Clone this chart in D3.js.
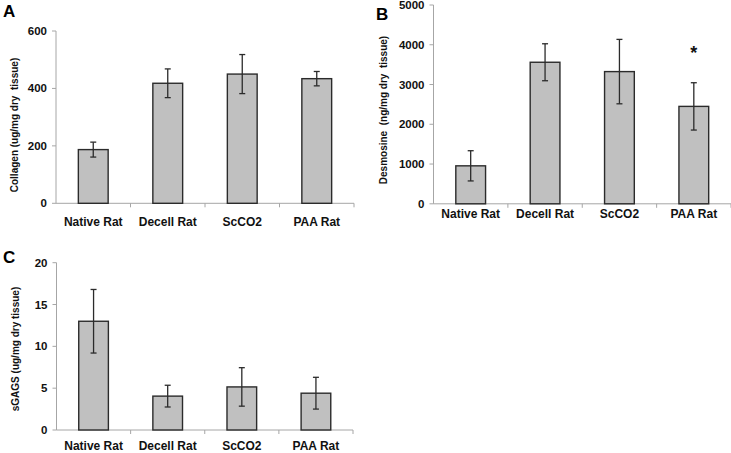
<!DOCTYPE html>
<html>
<head>
<meta charset="utf-8">
<script src="https://cdn.jsdelivr.net/npm/d3@7"></script>
<style>
  body { margin: 0; background: #fff; }
  svg { display: block; font-family: "Liberation Sans", Arial, sans-serif; }
  text { white-space: pre; }
</style>
</head>
<body>
<script>
var categories = ["Native Rat", "Decell Rat", "ScCO2", "PAA Rat"];

var collagenMean = [187, 418, 450, 434];
var collagenErr = [26, 50, 68, 25];
var collagenTicks = [0, 200, 400, 600];

var desmosineMean = [955, 3560, 3325, 2450];
var desmosineErr = [380, 465, 810, 595];
var desmosineTicks = [0, 1000, 2000, 3000, 4000, 5000];
var desmosineStar = ["PAA Rat"];

var sgagMean = [13.0, 4.05, 5.15, 4.4];
var sgagErr = [3.8, 1.3, 2.3, 1.9];
var sgagTicks = [0, 5, 10, 15, 20];

var width = 731;
var height = 453;
var svg = d3.select("body").append("svg").attr("width", width).attr("height", height);

var axisColor = "#a6a6a6";
var barFill = "#c0c0c0";
var barStroke = "#2b2b2b";

function panel(opt) {
  var g = svg.append("g");
  var x = d3.scaleBand().domain(categories).range([opt.x0, opt.x1])
    .paddingInner(0.6).paddingOuter(0.3);
  var y = d3.scaleLinear().domain([0, d3.max(opt.ticks)]).range([opt.y0, opt.y1]);
  var step = x.step();

  // y axis
  g.append("line").attr("x1", opt.x0).attr("x2", opt.x0)
    .attr("y1", y(0)).attr("y2", y(d3.max(opt.ticks)))
    .attr("stroke", axisColor).attr("stroke-width", 1);
  g.selectAll(".ytick").data(opt.ticks).enter().append("line")
    .attr("x1", opt.x0 - 4).attr("x2", opt.x0)
    .attr("y1", function(d) { return y(d); }).attr("y2", function(d) { return y(d); })
    .attr("stroke", axisColor);
  g.selectAll(".ylab").data(opt.ticks).enter().append("text")
    .attr("x", opt.x0 - 9).attr("y", function(d) { return y(d); })
    .attr("dy", "0.35em").attr("text-anchor", "end")
    .attr("font-size", "11.5px").attr("font-weight", "bold").attr("fill", "#111")
    .text(function(d) { return d; });

  // x axis
  g.append("line").attr("x1", opt.x0).attr("x2", opt.x1)
    .attr("y1", y(0)).attr("y2", y(0))
    .attr("stroke", axisColor).attr("stroke-width", 1);
  g.selectAll(".xtick").data(categories).enter().append("line")
    .attr("x1", function(d, i) { return opt.x0 + (i + 1) * step; })
    .attr("x2", function(d, i) { return opt.x0 + (i + 1) * step; })
    .attr("y1", y(0)).attr("y2", y(0) + 4)
    .attr("stroke", axisColor);

  // bars
  g.selectAll(".bar").data(opt.mean).enter().append("rect")
    .attr("x", function(d, i) { return x(categories[i]); })
    .attr("y", function(d) { return y(d); })
    .attr("width", x.bandwidth())
    .attr("height", function(d) { return y(0) - y(d); })
    .attr("fill", barFill).attr("stroke", barStroke).attr("stroke-width", 1.4);

  // error bars
  var cx = function(i) { return x(categories[i]) + x.bandwidth() / 2; };
  opt.mean.forEach(function(m, i) {
    var e = opt.err[i];
    g.append("line").attr("x1", cx(i)).attr("x2", cx(i))
      .attr("y1", y(m + e)).attr("y2", y(m - e))
      .attr("stroke", barStroke).attr("stroke-width", 1.3);
    [m + e, m - e].forEach(function(v) {
      g.append("line").attr("x1", cx(i) - 3).attr("x2", cx(i) + 3)
        .attr("y1", y(v)).attr("y2", y(v))
        .attr("stroke", barStroke).attr("stroke-width", 1.3);
    });
  });

  // category labels
  g.selectAll(".xlab").data(categories).enter().append("text")
    .attr("x", function(d) { return x(d) + x.bandwidth() / 2; })
    .attr("y", y(0) + opt.labelGap).attr("dy", "0.35em")
    .attr("text-anchor", "middle")
    .attr("font-size", "12px").attr("font-weight", "bold").attr("fill", "#111")
    .text(function(d) { return d; });

  // y title
  g.append("text")
    .attr("transform", "translate(" + opt.titleX + "," + opt.titleY + ") rotate(-90)")
    .attr("text-anchor", "middle").attr("dy", "0.35em")
    .attr("font-size", "10px").attr("font-weight", "bold").attr("fill", "#111")
    .text(opt.title);

  // panel letter
  g.append("text").attr("x", opt.letterX).attr("y", opt.letterY)
    .attr("font-size", "17px").attr("font-weight", "bold").attr("fill", "#000")
    .text(opt.letter);

  // significance marks
  (opt.star || []).forEach(function(c) {
    var i = categories.indexOf(c);
    g.append("text").attr("x", cx(i)).attr("y", y(opt.mean[i] + opt.err[i]) - 24)
      .attr("text-anchor", "middle")
      .attr("font-size", "18px").attr("font-weight", "bold").attr("fill", "#111")
      .text("*");
  });
}

panel({
  mean: collagenMean, err: collagenErr, ticks: collagenTicks,
  x0: 56, x1: 354, y0: 203.3, y1: 31, labelGap: 18.5,
  title: "Collagen (ug/mg dry  tissue)", titleX: 14, titleY: 125,
  letter: "A", letterX: 3, letterY: 17
});

panel({
  mean: desmosineMean, err: desmosineErr, ticks: desmosineTicks, star: desmosineStar,
  x0: 433.5, x1: 731, y0: 203.8, y1: 5, labelGap: 10,
  title: "Desmosine  (ng/mg dry  tissue)", titleX: 383, titleY: 110,
  letter: "B", letterX: 376, letterY: 20
});

panel({
  mean: sgagMean, err: sgagErr, ticks: sgagTicks,
  x0: 56.5, x1: 353, y0: 430, y1: 262.7, labelGap: 16,
  title: "sGAGS (ug/mg dry tissue)", titleX: 15, titleY: 349,
  letter: "C", letterX: 3, letterY: 263
});
</script>
</body>
</html>
